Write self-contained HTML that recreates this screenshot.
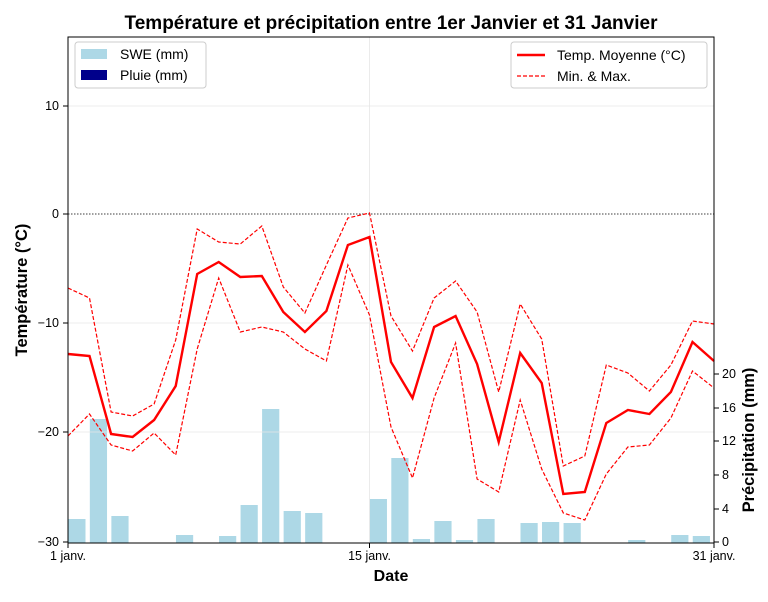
<!DOCTYPE html>
<html><head><meta charset="utf-8"><style>
body{margin:0;background:#fff}
svg text{font-family:"Liberation Sans","DejaVu Sans",sans-serif}
</style></head><body>
<svg id="s" width="768" height="597" xmlns="http://www.w3.org/2000/svg">
<rect width="768" height="597" fill="#fff"/>
<g id="bars" fill="#add8e6"></g>
<g stroke="#e6e6e6" stroke-width="0.8">
<line x1="68" x2="714" y1="106" y2="106"/>
<line x1="68" x2="714" y1="323" y2="323"/>
<line x1="68" x2="714" y1="432" y2="432"/>
<line x1="369.5" x2="369.5" y1="37" y2="543"/>
</g>
<line x1="68" x2="714" y1="214" y2="214" stroke="#000" stroke-width="0.8" stroke-dasharray="1.5,1.5"/>
<polyline id="mx" fill="none" stroke="red" stroke-width="1.2" stroke-dasharray="4,2"/>
<polyline id="mn" fill="none" stroke="red" stroke-width="1.2" stroke-dasharray="4,2"/>
<polyline id="mean" fill="none" stroke="red" stroke-width="2.4"/>
<rect x="68" y="37" width="646" height="506" fill="none" stroke="#000" stroke-width="1"/>
<g stroke="#000" stroke-width="1">
<line x1="63" x2="68" y1="106" y2="106"/><line x1="63" x2="68" y1="214" y2="214"/><line x1="63" x2="68" y1="323" y2="323"/><line x1="63" x2="68" y1="432" y2="432"/><line x1="63" x2="68" y1="542" y2="542"/>
<line x1="68" x2="68" y1="543" y2="548"/><line x1="369.5" x2="369.5" y1="543" y2="548"/><line x1="714" x2="714" y1="543" y2="548"/>
<line x1="714" x2="719" y1="542" y2="542"/><line x1="714" x2="719" y1="509" y2="509"/><line x1="714" x2="719" y1="475" y2="475"/><line x1="714" x2="719" y1="441" y2="441"/><line x1="714" x2="719" y1="408" y2="408"/><line x1="714" x2="719" y1="374" y2="374"/>
</g>
<g font-size="12.5" text-anchor="end" fill="#000">
<text x="59" y="110">10</text><text x="59" y="218">0</text><text x="59" y="327">−10</text><text x="59" y="436">−20</text><text x="59" y="546">−30</text>
</g>
<g font-size="12.5" text-anchor="start">
<text x="722" y="546">0</text><text x="722" y="513">4</text><text x="722" y="479">8</text><text x="722" y="445">12</text><text x="722" y="412">16</text><text x="722" y="378">20</text>
</g>
<g font-size="12.5" text-anchor="middle">
<text x="68" y="560">1 janv.</text><text x="369.5" y="560">15 janv.</text><text x="714" y="560">31 janv.</text>
</g>
<text x="391" y="29" font-size="19" font-weight="bold" text-anchor="middle">Température et précipitation entre 1er Janvier et 31 Janvier</text>
<text x="391" y="581" font-size="16" font-weight="bold" text-anchor="middle">Date</text>
<text transform="translate(27,290) rotate(-90)" font-size="16.5" font-weight="bold" text-anchor="middle">Température (°C)</text>
<text transform="translate(754,440) rotate(-90)" font-size="16.5" font-weight="bold" text-anchor="middle">Précipitation (mm)</text>
<rect x="75" y="42" width="131" height="46" rx="3" fill="#fff" fill-opacity="0.8" stroke="#ccc"/>
<rect x="81" y="49" width="26" height="10" fill="#add8e6"/>
<rect x="81" y="70" width="26" height="10" fill="#00008b"/>
<text x="120" y="59" font-size="14">SWE (mm)</text>
<text x="120" y="80" font-size="14">Pluie (mm)</text>
<rect x="511" y="42" width="196" height="46" rx="3" fill="#fff" fill-opacity="0.8" stroke="#ccc"/>
<line x1="517" x2="545" y1="55" y2="55" stroke="red" stroke-width="2.4"/>
<line x1="517" x2="545" y1="76" y2="76" stroke="red" stroke-width="1.2" stroke-dasharray="4,2"/>
<text x="557" y="60" font-size="14">Temp. Moyenne (°C)</text>
<text x="557" y="81" font-size="14">Min. &amp; Max.</text>
</svg>
<script>
var X=d=>68+(d-1)*21.533;
var mean=[354,356,434,437,420,386,274,262,277,276,312,332,311,245,237,362,398,327,316,364,442,353,383,494,492,423,410,414,392,342,361];
var mx=[288,298,412,416,404,340,229,242,244,226,287,313,265,218,213,316,351,298,281,312,392,304,339,466,456,365,373,391,365,321,324];
var mn=[436,414,445,451,433,455,349,278,332,327,332,349,361,265,315,427,478,398,343,479,492,400,469,513,520,474,447,445,418,371,388];
function pts(a){return a.map((y,i)=>X(i+1).toFixed(1)+","+y).join(" ")}
document.getElementById("mean").setAttribute("points",pts(mean));
document.getElementById("mx").setAttribute("points",pts(mx));
document.getElementById("mn").setAttribute("points",pts(mn));
var bars={1:519,2:419,3:516,6:535,8:536,9:505,10:409,11:511,12:513,15:499,16:458,17:539,18:521,19:540,20:519,22:523,23:522,24:523,27:540,29:535,30:536};
var g=document.getElementById("bars"),h="";
for(var d in bars){var x=X(+d)+0.3;h+='<rect x="'+x+'" y="'+bars[d]+'" width="17.2" height="'+(543-bars[d])+'"/>';}
g.innerHTML=h;
</script>
</body></html>
